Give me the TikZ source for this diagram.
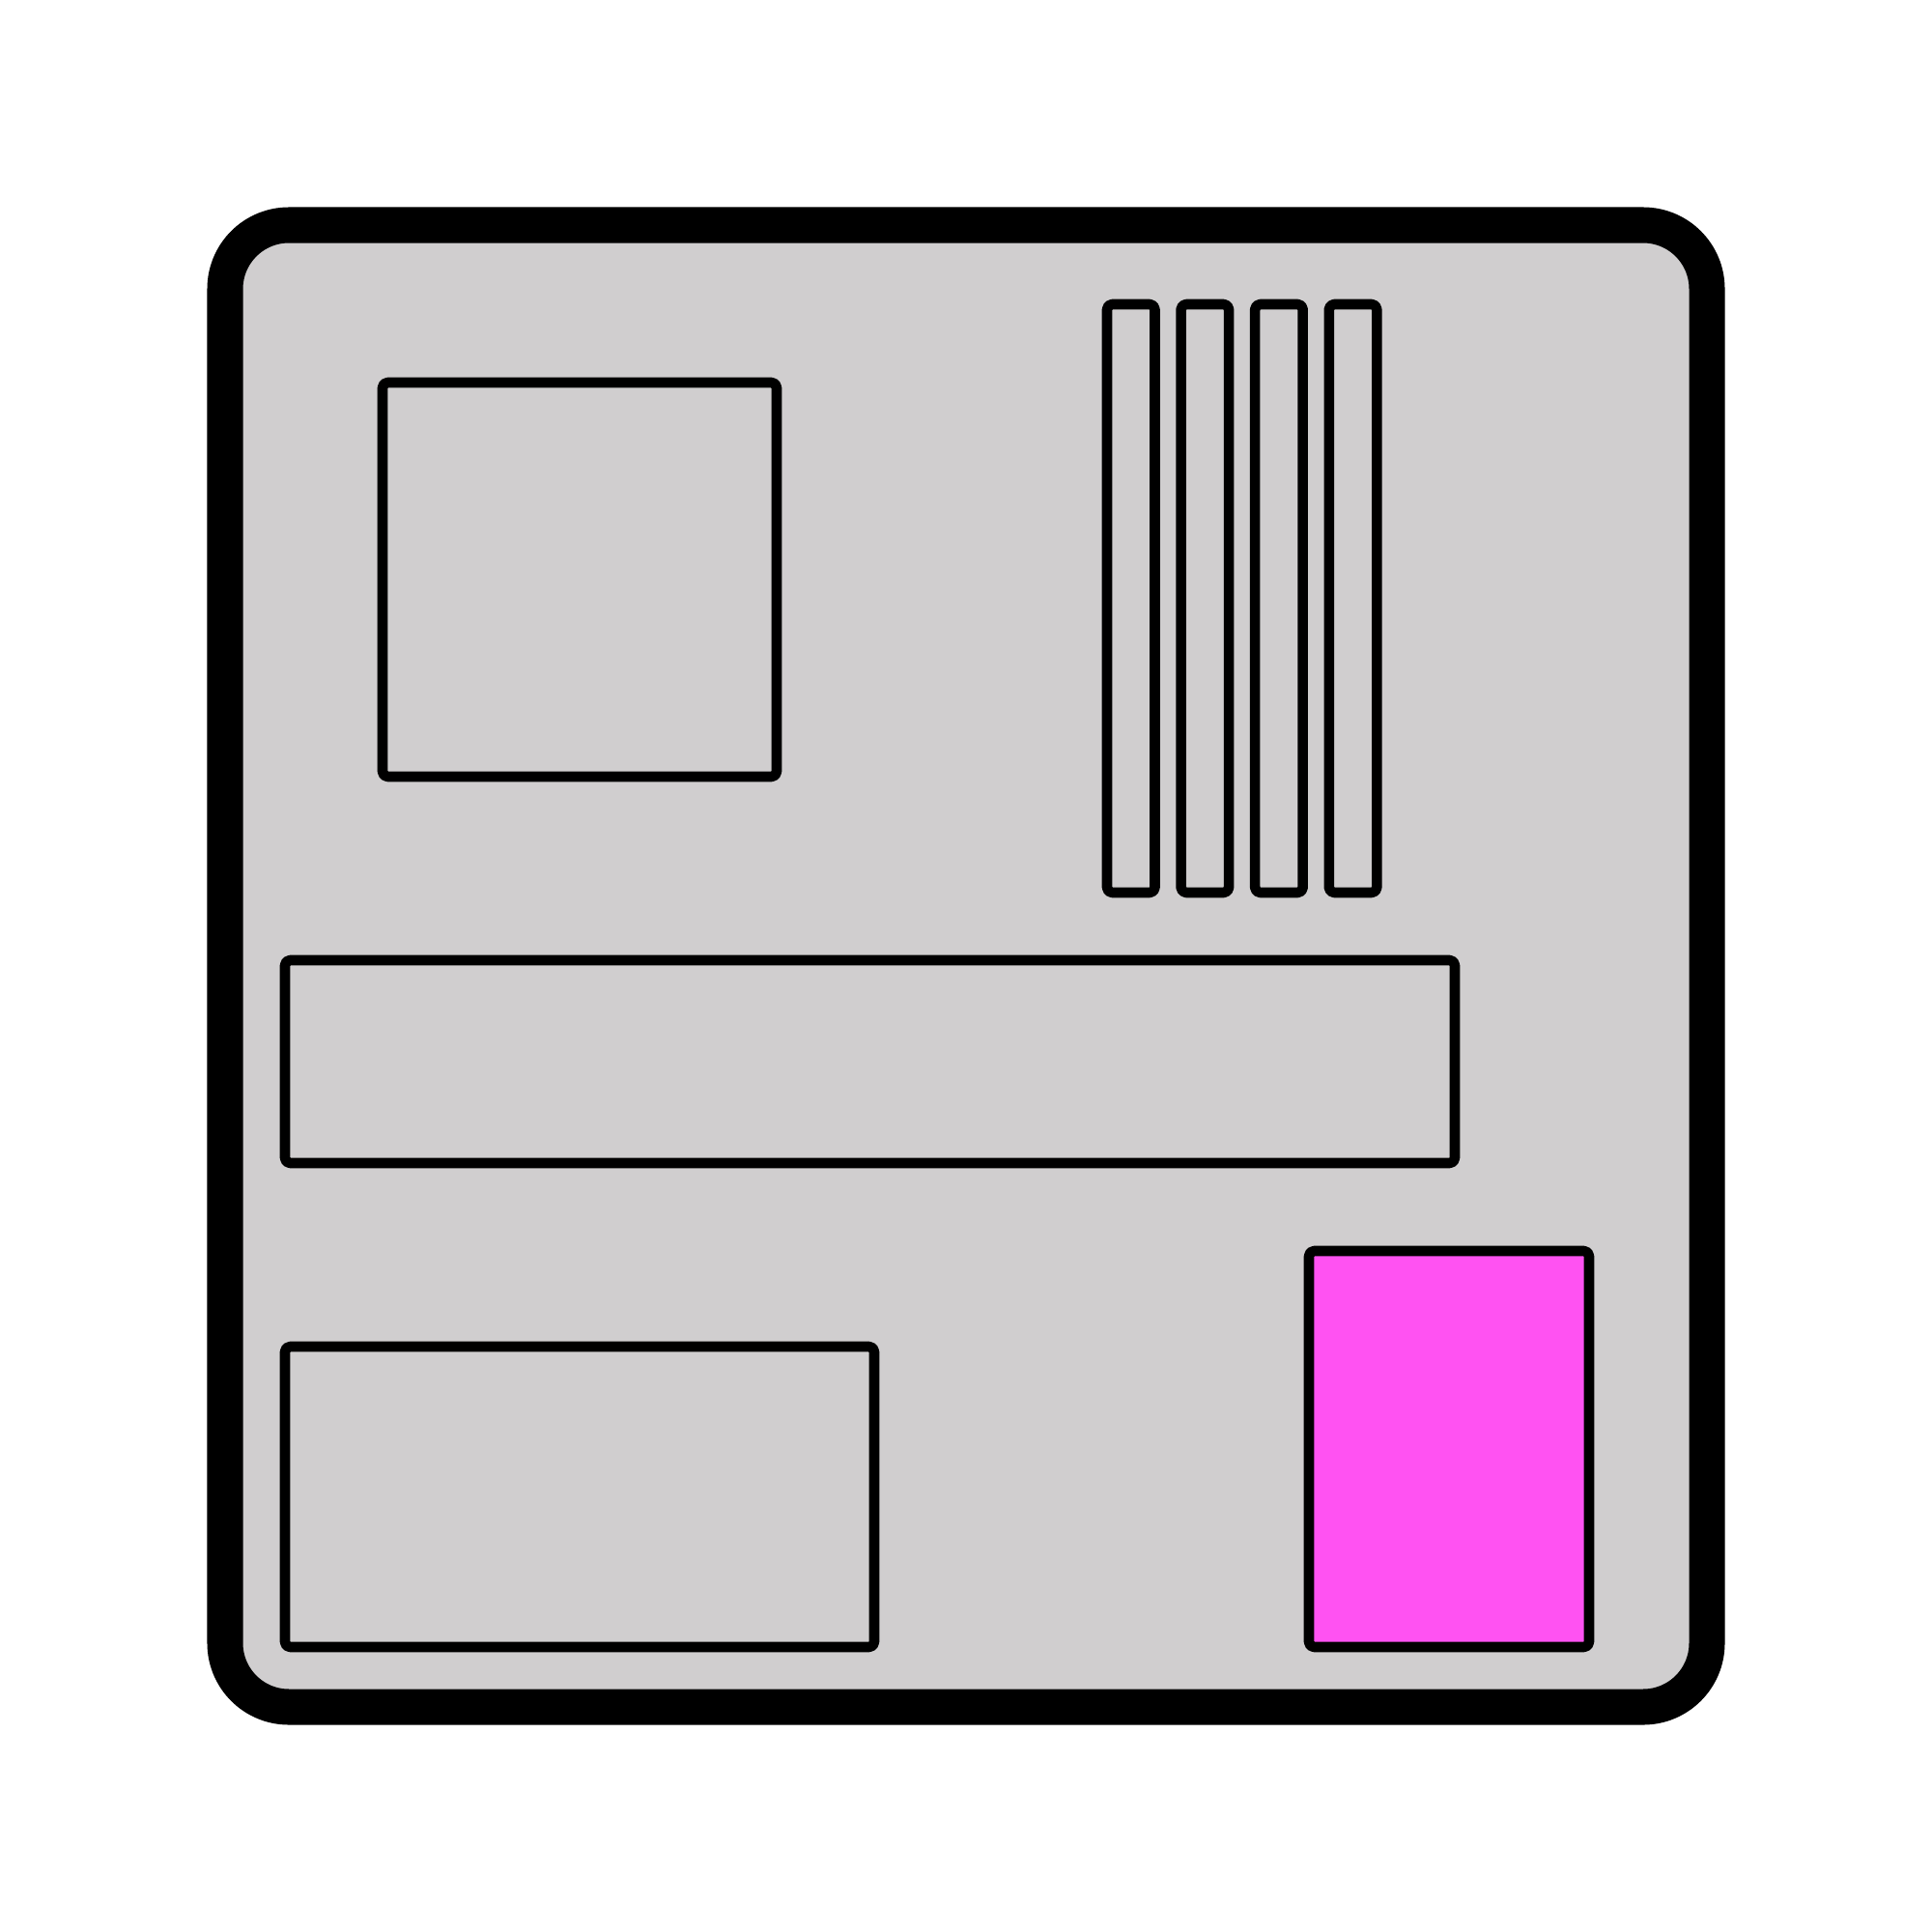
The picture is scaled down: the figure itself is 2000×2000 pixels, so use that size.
\documentclass[tikz,border=0pt]{standalone}
\usetikzlibrary{positioning}
\definecolor{boardgray}{RGB}{208,206,207}
\definecolor{chipmagenta}{RGB}{255,82,242}

\begin{document}
\begin{tikzpicture}[x=0.01cm, y=-0.01cm,
  part/.style={draw, line width=3pt, line join=round, rounded corners=1.5pt}]
\useasboundingbox (0,0) rectangle (2000,2000);
% The board itself
\draw [fill=boardgray, line width=0.37cm, rounded corners=0.66cm] (233,233) rectangle (1767,1767);
% Processor socket
\draw [part] (396,396) rectangle (804,804);
% The four memory slots
\foreach \i in {0,...,3} {
  \draw [part] ({1146+\i*76.6},315) rectangle +(49.5,609);
}
% Long expansion slot
\draw [part] (295,994) rectangle (1506,1204);
% Lower left block and the highlighted block
\draw [part] (295,1394) rectangle (905,1705);
\draw [part, fill=chipmagenta] (1355,1295) rectangle (1645,1705);
\end{tikzpicture}
\end{document}
